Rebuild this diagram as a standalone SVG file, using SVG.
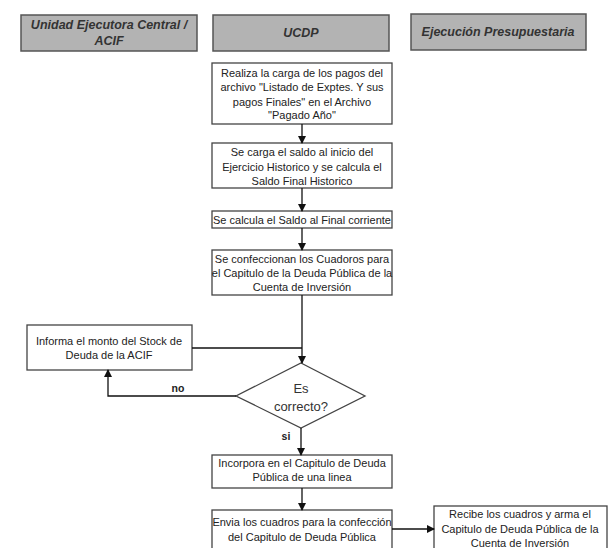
<svg xmlns="http://www.w3.org/2000/svg" width="615" height="548" viewBox="0 0 615 548">
<style>
.hdr{fill:#b3b3b3;stroke:#555;stroke-width:1.5}
.ht{font-family:"Liberation Sans",Arial,sans-serif;font-size:12.5px;font-weight:bold;font-style:italic;fill:#333;text-anchor:middle}
.box{fill:#fff;stroke:#444;stroke-width:1.3}
.t{font-family:"Liberation Sans",Arial,sans-serif;font-size:11px;fill:#222;text-anchor:middle}
.dt{font-family:"Liberation Sans",Arial,sans-serif;font-size:13px;fill:#333;text-anchor:middle}
.lb{font-family:"Liberation Sans",Arial,sans-serif;font-size:10.5px;font-weight:bold;fill:#222;text-anchor:middle}
.c{fill:none;stroke:#111;stroke-width:1.3}
</style>
<defs>
<marker id="ah" markerWidth="8" markerHeight="8" refX="7" refY="4" orient="auto" markerUnits="userSpaceOnUse">
<path d="M0,0 L8,4 L0,8 Z" fill="#111"/>
</marker>
</defs>
<rect width="615" height="548" fill="#fff"/>
<g id="h1"><rect class="hdr" x="21" y="15" width="176" height="36"/><text class="ht" x="109" y="29">Unidad Ejecutora Central /</text><text class="ht" x="109" y="45">ACIF</text></g>
<g id="h2"><rect class="hdr" x="213" y="15" width="176" height="36"/><text class="ht" x="301" y="37">UCDP</text></g>
<g id="h3"><rect class="hdr" x="411" y="14" width="175" height="36"/><text class="ht" x="498" y="36">Ejecución Presupuestaria</text></g>

<g id="nA"><rect class="box" x="212" y="63" width="180" height="61"/>
<text class="t" x="302" y="77">Realiza la carga de los pagos del</text>
<text class="t" x="302" y="91">archivo "Listado de Exptes. Y sus</text>
<text class="t" x="302" y="106">pagos Finales" en el Archivo</text>
<text class="t" x="302" y="119">"Pagado Año"</text></g>
<g id="nB"><rect class="box" x="212" y="143" width="180" height="45"/>
<text class="t" x="302" y="156">Se carga el saldo al inicio del</text>
<text class="t" x="302" y="171">Ejercicio Historico y se calcula el</text>
<text class="t" x="302" y="185">Saldo Final Historico</text></g>
<g id="nC"><rect class="box" x="212" y="211" width="180" height="17"/>
<text class="t" x="302" y="223.5">Se calcula el Saldo al Final corriente</text></g>
<g id="nD"><rect class="box" x="212" y="250" width="180" height="45"/>
<text class="t" x="302" y="263">Se confeccionan los Cuadoros para</text>
<text class="t" x="302" y="277">el Capitulo de la Deuda Pública de la</text>
<text class="t" x="302" y="291">Cuenta de Inversión</text></g>
<g id="nE"><rect class="box" x="27" y="325" width="165" height="45"/>
<text class="t" x="109" y="345">Informa el monto del Stock de</text>
<text class="t" x="109" y="359">Deuda de la ACIF</text></g>
<g id="nDia"><polygon class="box" points="301,363 365,396 301,428 236,396"/>
<text class="dt" x="301" y="393">Es</text>
<text class="dt" x="301" y="411">correcto?</text></g>
<g id="nF"><rect class="box" x="212" y="455" width="180" height="33"/>
<text class="t" x="302" y="467">Incorpora en el Capitulo de Deuda</text>
<text class="t" x="302" y="481">Pública de una linea</text></g>
<g id="nG"><rect class="box" x="212" y="510" width="180" height="45"/>
<text class="t" x="302" y="526">Envia los cuadros para la confección</text>
<text class="t" x="302" y="541">del Capitulo de Deuda Pública</text></g>
<g id="nH"><rect class="box" x="434" y="506" width="173" height="45"/>
<text class="t" x="520" y="518">Recibe los cuadros y arma el</text>
<text class="t" x="520" y="533">Capitulo de Deuda Pública de la</text>
<text class="t" x="520" y="547">Cuenta de Inversión</text></g>

<g id="connectors">
<line class="c" x1="302" y1="124" x2="302" y2="143" marker-end="url(#ah)"/>
<line class="c" x1="302" y1="188" x2="302" y2="211" marker-end="url(#ah)"/>
<line class="c" x1="302" y1="228" x2="302" y2="250" marker-end="url(#ah)"/>
<line class="c" x1="302" y1="295" x2="302" y2="363" marker-end="url(#ah)"/>
<line class="c" x1="192" y1="348" x2="302" y2="348"/>
<polyline class="c" points="236,396 108,396 108,370" marker-end="url(#ah)"/>
<line class="c" x1="301" y1="428" x2="301" y2="455" marker-end="url(#ah)"/>
<line class="c" x1="302" y1="488" x2="302" y2="510" marker-end="url(#ah)"/>
<line class="c" x1="392" y1="529" x2="434" y2="529" marker-end="url(#ah)"/>
<text class="lb" x="178" y="392">no</text>
<text class="lb" x="286" y="440">si</text>
</g>
</svg>
